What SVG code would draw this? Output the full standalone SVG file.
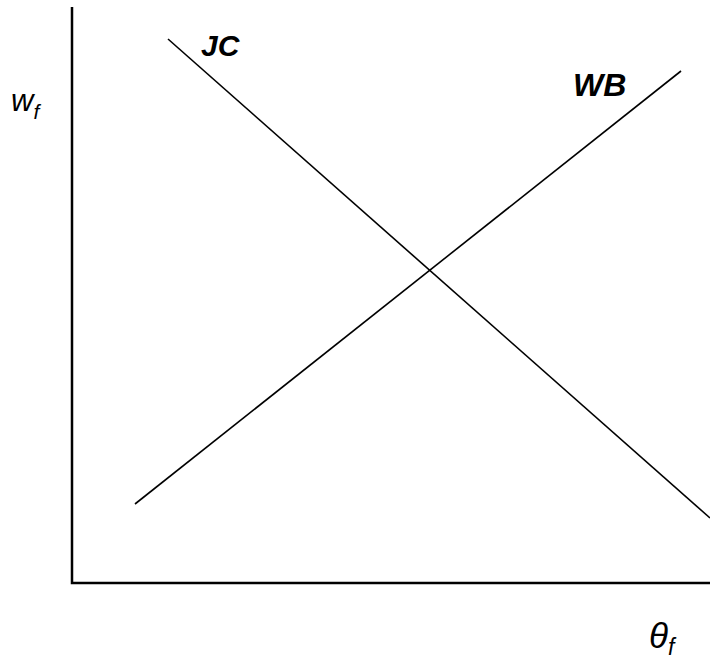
<svg xmlns="http://www.w3.org/2000/svg" width="710" height="659" viewBox="0 0 710 659">
<style>
.ax{stroke:#000;stroke-width:2.5;fill:none}
.cv{stroke:#000;stroke-width:1.6;fill:none}
.lb{font-family:"Liberation Sans",Arial,sans-serif;font-style:italic;font-weight:bold;fill:#000}
.var{font-family:"Liberation Sans",Arial,sans-serif;font-style:italic;fill:#000}
</style>
<rect width="710" height="659" fill="#fff"/>
<g id="axes">
<polyline class="ax" points="72,7 72,583 710,583"/>
</g>
<g id="connectors">
<line id="jc-line" class="cv" x1="168" y1="39" x2="710" y2="518"/>
<line id="wb-line" class="cv" x1="135" y1="504" x2="681" y2="71"/>
</g>
<g id="jc"><text class="lb" x="201" y="56" font-size="30">JC</text></g>
<g id="wb"><text class="lb" x="573" y="96" font-size="32">WB</text></g>
<g id="wf"><text class="var" x="11" y="111" font-size="31">w<tspan font-size="21" dy="8">f</tspan></text></g>
<g id="thetaf"><text class="var" x="649" y="648" font-size="35">θ<tspan font-size="23" dy="7">f</tspan></text></g>
</svg>
